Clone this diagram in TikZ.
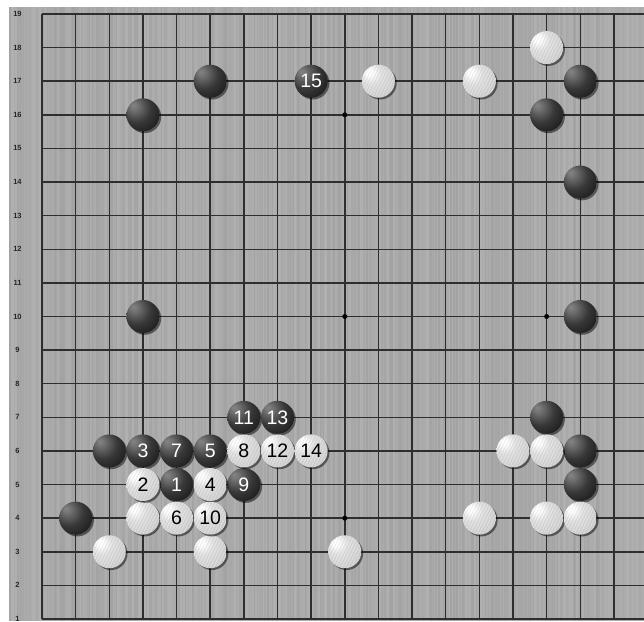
\documentclass[tikz,border=0pt]{standalone}
\usepackage{fontspec}
\setmainfont{Liberation Sans}
\usetikzlibrary{shadows}
\pgfdeclareradialshading{blackstone}{\pgfpoint{-15bp}{15bp}}{%
  color(0bp)=(black!48); color(6bp)=(black!55); color(22bp)=(black!78);
  color(42bp)=(black!92); color(55bp)=(black!97); color(72bp)=(black)}
\pgfdeclareradialshading{whitestone}{\pgfpoint{-15bp}{15bp}}{%
  color(0bp)=(white); color(5bp)=(white); color(16bp)=(black!11);
  color(36bp)=(black!17); color(52bp)=(black!28); color(62bp)=(black!42); color(72bp)=(black!55)}
\tikzset{
  gridline/.style={line width=1.5pt, draw=black!82},
  starpt/.style={circle, fill=black, inner sep=0pt, minimum size=5pt},
  rowlab/.style={font=\fontsize{7.5pt}{8pt}\selectfont\bfseries, text=black!85, inner sep=0pt},
  stone/.style={circle, minimum size=33pt, inner sep=0pt, shade,
    font=\fontsize{19.5pt}{20pt}\selectfont,
    drop shadow={shadow xshift=1.8pt, shadow yshift=-1.8pt, opacity=0.5, fill=black}},
  bstone/.style={stone, shading=blackstone, text=white},
  wstone/.style={stone, shading=whitestone, text=black,
    path picture={
      \foreach \k in {-6,...,6}
        \draw[black, opacity=0.07, line width=0.9pt]
          ([xshift=\k*3.2pt-9pt, yshift=-18pt]path picture bounding box.center)
          -- ++(18pt,36pt);
    }},
}
\begin{document}
\begin{tikzpicture}[x=1pt,y=1pt]
\useasboundingbox (0,0) rectangle (644,621);
\clip (0,0) rectangle (644,621);
\fill[white] (0,0) rectangle (644,621);
\fill[black!34] (9,0) rectangle (644,614);
\pgfmathsetseed{7}
\foreach \i in {0,...,422}{
  \pgfmathsetmacro\gv{int(31+rnd*6)}
  \draw[line width=1.55pt, draw=black!\gv] (9.8+1.5*\i,0) -- (9.8+1.5*\i,614);
}
\begin{scope}[x=33.64pt, y=33.61pt, shift={(8.36pt,-31.59pt)}]
  \foreach \c in {1,...,19} \draw[gridline] (\c,1) -- (\c,19);
  \foreach \r in {1,...,19} \draw[gridline] (1,\r) -- (19.5,\r);
  \foreach \c/\r in {10/16,10/10,16/10,10/4,4/4,4/10,4/16,16/16,16/4}
    \node[starpt] (star\c-\r) at (\c,\r) {};
  \foreach \r in {1,...,19}
    \node[rowlab] (lab\r) at ([xshift=-24.5pt]1,\r) {\r};
  % black stones
  \foreach \c/\r/\n in {6/17/,17/17/,16/16/,4/16/,17/14/,4/10/,17/10/,16/7/,
      3/6/,17/6/,17/5/,2/4/,9/17/15,7/7/11,8/7/13,4/6/3,5/6/7,6/6/5,5/5/1,7/5/9}
    \node[bstone] (b\c-\r) at (\c,\r) {\n};
  % white stones
  \foreach \c/\r/\n in {11/17/,14/17/,16/18/,15/6/,16/6/,14/4/,16/4/,17/4/,
      4/4/,3/3/,6/3/,10/3/,7/6/8,8/6/12,9/6/14,4/5/2,6/5/4,5/4/6,6/4/10}
    \node[wstone] (w\c-\r) at (\c,\r) {\n};
\end{scope}
\end{tikzpicture}
\end{document}
